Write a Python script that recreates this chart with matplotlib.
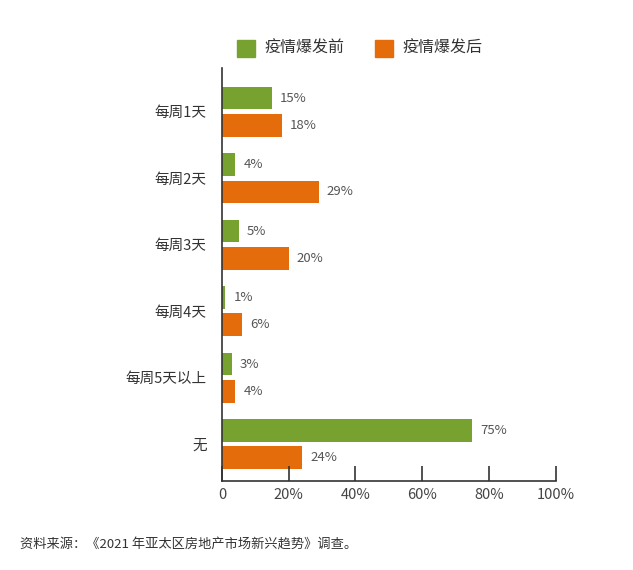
import matplotlib
matplotlib.use('Agg')
import matplotlib.pyplot as plt
from matplotlib.patches import Rectangle

plt.rcParams['font.family'] = ['Noto Sans CJK SC', 'DejaVu Sans']

categories = ['每周1天', '每周2天', '每周3天', '每周4天', '每周5天以上', '无']
before = [15, 4, 5, 1, 3, 75]
after = [18, 29, 20, 6, 4, 24]
series_names = ['疫情爆发前', '疫情爆发后']
x_ticks = [0, 20, 40, 60, 80, 100]
x_tick_labels = ['0', '20%', '40%', '60%', '80%', '100%']

green = '#77a22f'
orange = '#e46c0a'

fig = plt.figure(figsize=(6.33, 5.7), dpi=100)
ax = fig.add_axes([0.3507, 0.156, 0.527, 0.725])

pos = list(range(len(categories)))
h = 0.34
off = 0.205
ax.barh([p - off for p in pos], before, height=h, color=green)
ax.barh([p + off for p in pos], after, height=h, color=orange)

for p, v in zip(pos, before):
    ax.text(v + 2.4, p - off, f'{v}%', va='center', ha='left', fontsize=9.5, color='#555555')
for p, v in zip(pos, after):
    ax.text(v + 2.4, p + off, f'{v}%', va='center', ha='left', fontsize=9.5, color='#555555')

ax.set_xlim(0, 100)
ax.set_ylim(5.556, -0.66)
ax.set_yticks(pos)
ax.set_yticklabels(categories, fontsize=10.5, color='#333333')
ax.set_xticks(x_ticks)
ax.set_xticklabels(x_tick_labels, fontsize=10.5, color='#444444')
ax.tick_params(axis='y', length=0, pad=11)
ax.tick_params(axis='x', direction='in', length=11, width=1.2, color='#333333', pad=5)
for s in ['top', 'right']:
    ax.spines[s].set_visible(False)
for s in ['left', 'bottom']:
    ax.spines[s].set_color('#333333')
    ax.spines[s].set_linewidth(1.2)

# legend at the top
fig.patches.append(Rectangle((237 / 633, 1 - 57 / 570), 18 / 633, 17 / 570,
                             transform=fig.transFigure, color=green))
fig.text(265 / 633, 1 - 48 / 570, series_names[0], fontsize=11.5, va='center', color='#333333')
fig.patches.append(Rectangle((375 / 633, 1 - 57 / 570), 18 / 633, 17 / 570,
                             transform=fig.transFigure, color=orange))
fig.text(403 / 633, 1 - 48 / 570, series_names[1], fontsize=11.5, va='center', color='#333333')

fig.text(20 / 633, 1 - 545 / 570, '资料来源：《2021 年亚太区房地产市场新兴趋势》调查。',
         fontsize=9.5, va='center', color='#333333')

fig.savefig('out.png', dpi=100)
